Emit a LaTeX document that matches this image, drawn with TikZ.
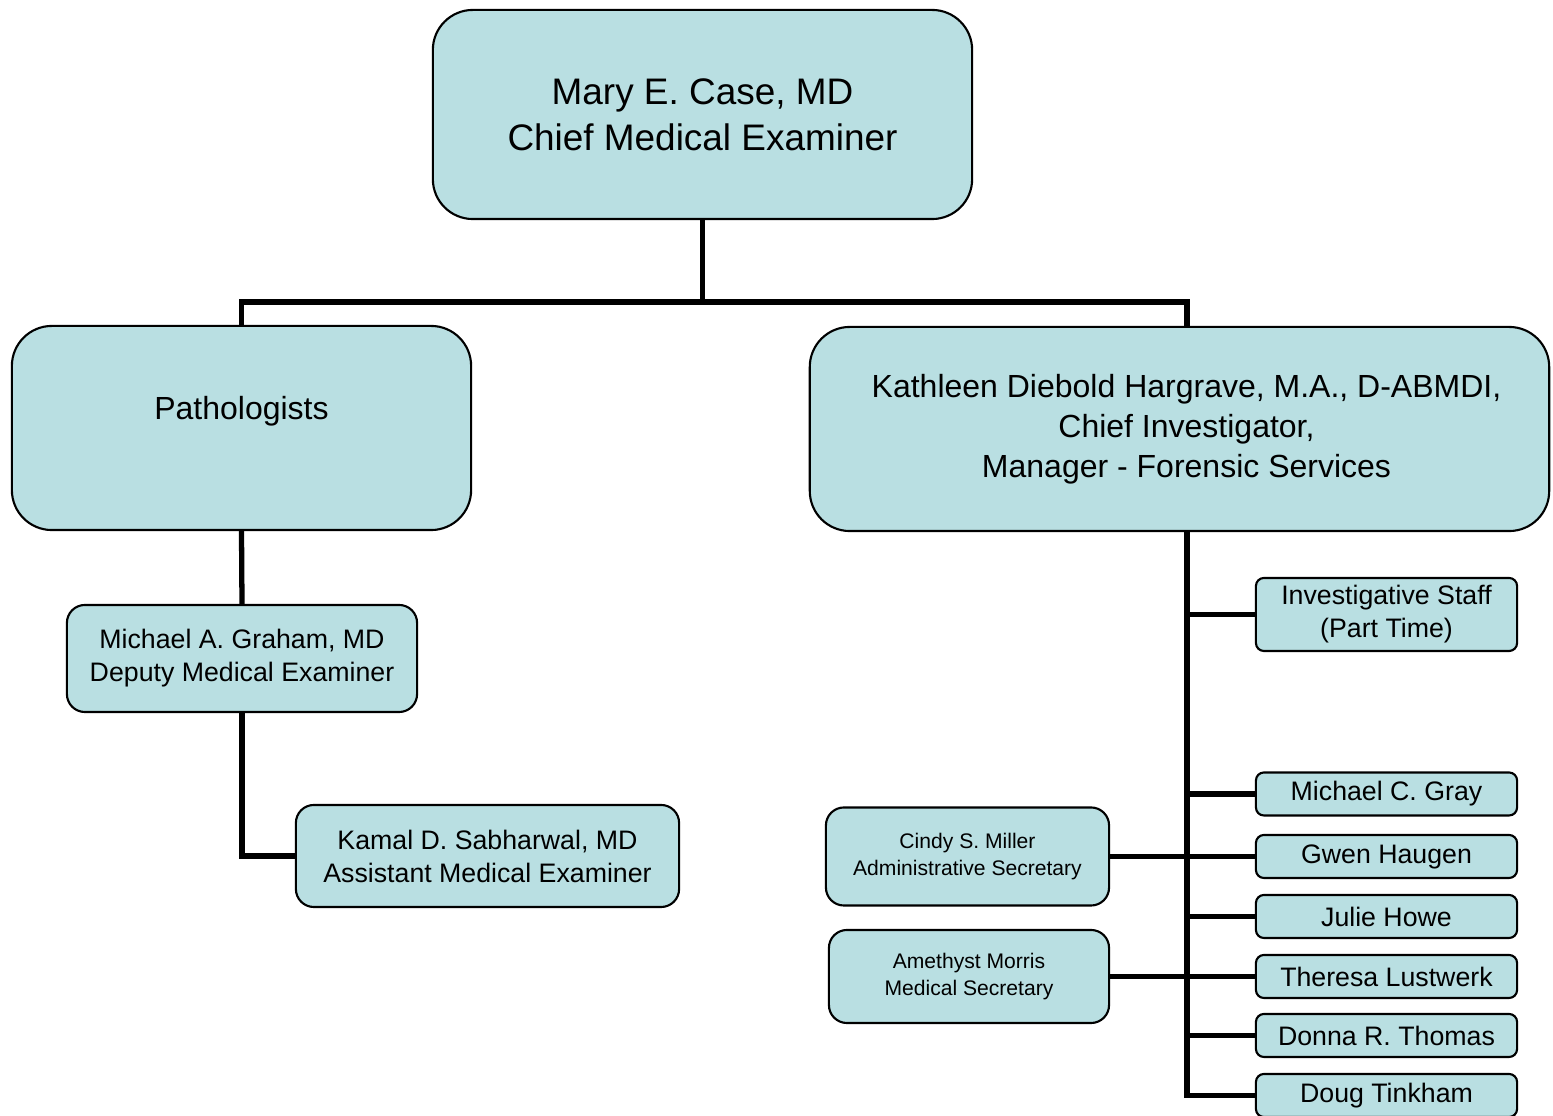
\documentclass[tikz,border=0pt]{standalone}
\usepackage{fontspec}
\setmainfont{Liberation Sans}
\usepackage{tikz}
\usetikzlibrary{positioning}
\usetikzlibrary{calc}
\definecolor{bleuboite}{RGB}{185,223,226}

\begin{document}
\begin{tikzpicture}[x=0.01cm,y=-0.01cm]
% définition des styles
\tikzstyle boite=[draw=black,line width=0.6pt,fill=bleuboite,align=center,inner sep=0pt]
\tikzstyle boitegrande=[boite,rounded corners=0.4cm]
\tikzstyle boitemoyenne=[boite,rounded corners=0.18cm,font=\fontsize{7.6}{9.4}\selectfont]
\tikzstyle boitepetite=[boite,rounded corners=0.08cm,font=\fontsize{7.6}{9.4}\selectfont,minimum width=2.61cm,minimum height=0.43cm]
\tikzstyle boitesecr=[boite,rounded corners=0.18cm,font=\fontsize{6}{7.6}\selectfont]
\tikzstyle trait=[line width=1.5pt]
\newcommand{\troncx}{1187} % abscisse du tronc de droite
\newcommand{\barrey}{302}  % ordonnée de la barre du haut
\newcommand{\staffx}{1386.5} % abscisse des boîtes de droite

\useasboundingbox (0,0) rectangle (1553,1116);

% les boîtes du haut
\node[boitegrande,minimum width=5.39cm,minimum height=2.09cm,font=\fontsize{10.5}{13}\selectfont] (chef) at (702.5,114.5)
  {Mary E. Case, MD\\Chief Medical Examiner};
\node[boitegrande,minimum width=4.59cm,minimum height=2.04cm,font=\fontsize{9.1}{11.3}\selectfont] (patho) at (241.5,428)
  {Pathologists\\~};
\node[boitegrande,minimum width=7.39cm,minimum height=2.04cm,font=\fontsize{9.1}{11.3}\selectfont] (kath) at (1179.5,429)
  {\hspace*{0.14cm}Kathleen Diebold Hargrave, M.A., D-ABMDI,\\\hspace*{0.14cm}Chief Investigator,\\\hspace*{0.14cm}Manager - Forensic Services};

% les médecins
\node[boitemoyenne,minimum width=3.5cm,minimum height=1.07cm] (graham) at (242,658.5)
  {Michael A. Graham, MD\\Deputy Medical Examiner};
\node[boitemoyenne,minimum width=3.83cm,minimum height=1.02cm] (kamal) at (487.5,856)
  {Kamal D. Sabharwal, MD\\Assistant Medical Examiner};

% les secrétaires
\node[boitesecr,minimum width=2.83cm,minimum height=0.98cm] (cindy) at (967.5,856.5)
  {Cindy S. Miller\\Administrative Secretary};
\node[boitesecr,minimum width=2.8cm,minimum height=0.93cm] (amethyst) at (969,976.5)
  {Amethyst Morris\\Medical Secretary};

% les enquêteurs
\node[boitepetite,minimum height=0.73cm] (invest) at (\staffx,614.5)
  {Investigative Staff\\(Part Time)};
\foreach \i/\y/\nom in {1/794/Michael C. Gray,2/856.5/Gwen Haugen,3/916.5/Julie Howe,
                        4/976.5/Theresa Lustwerk,5/1035.5/Donna R. Thomas,6/1095.5/Doug Tinkham}
  \node[boitepetite] (staff\i) at (\staffx,\y) {\nom};

% les liaisons
\coordinate (tronc) at (\troncx,\barrey);
\draw[trait] (chef.south) -- (chef.south |- tronc);
\draw[trait] (patho.north) |- (tronc) -- (kath.north -| tronc);
\draw[trait] (patho.south) -- (graham.north);
\draw[trait] (graham.south) |- (kamal.west);
\draw[trait] (kath.south -| tronc) |- (staff6.west);
\draw[trait] (kath.south -| tronc) |- (invest.west);
\foreach \i in {1,3,5}
  \draw[trait] (kath.south -| tronc) |- (staff\i.west);
\draw[trait] (cindy.east) -- (staff2.west);
\draw[trait] (amethyst.east) -- (staff4.west);
\end{tikzpicture}
\end{document}
